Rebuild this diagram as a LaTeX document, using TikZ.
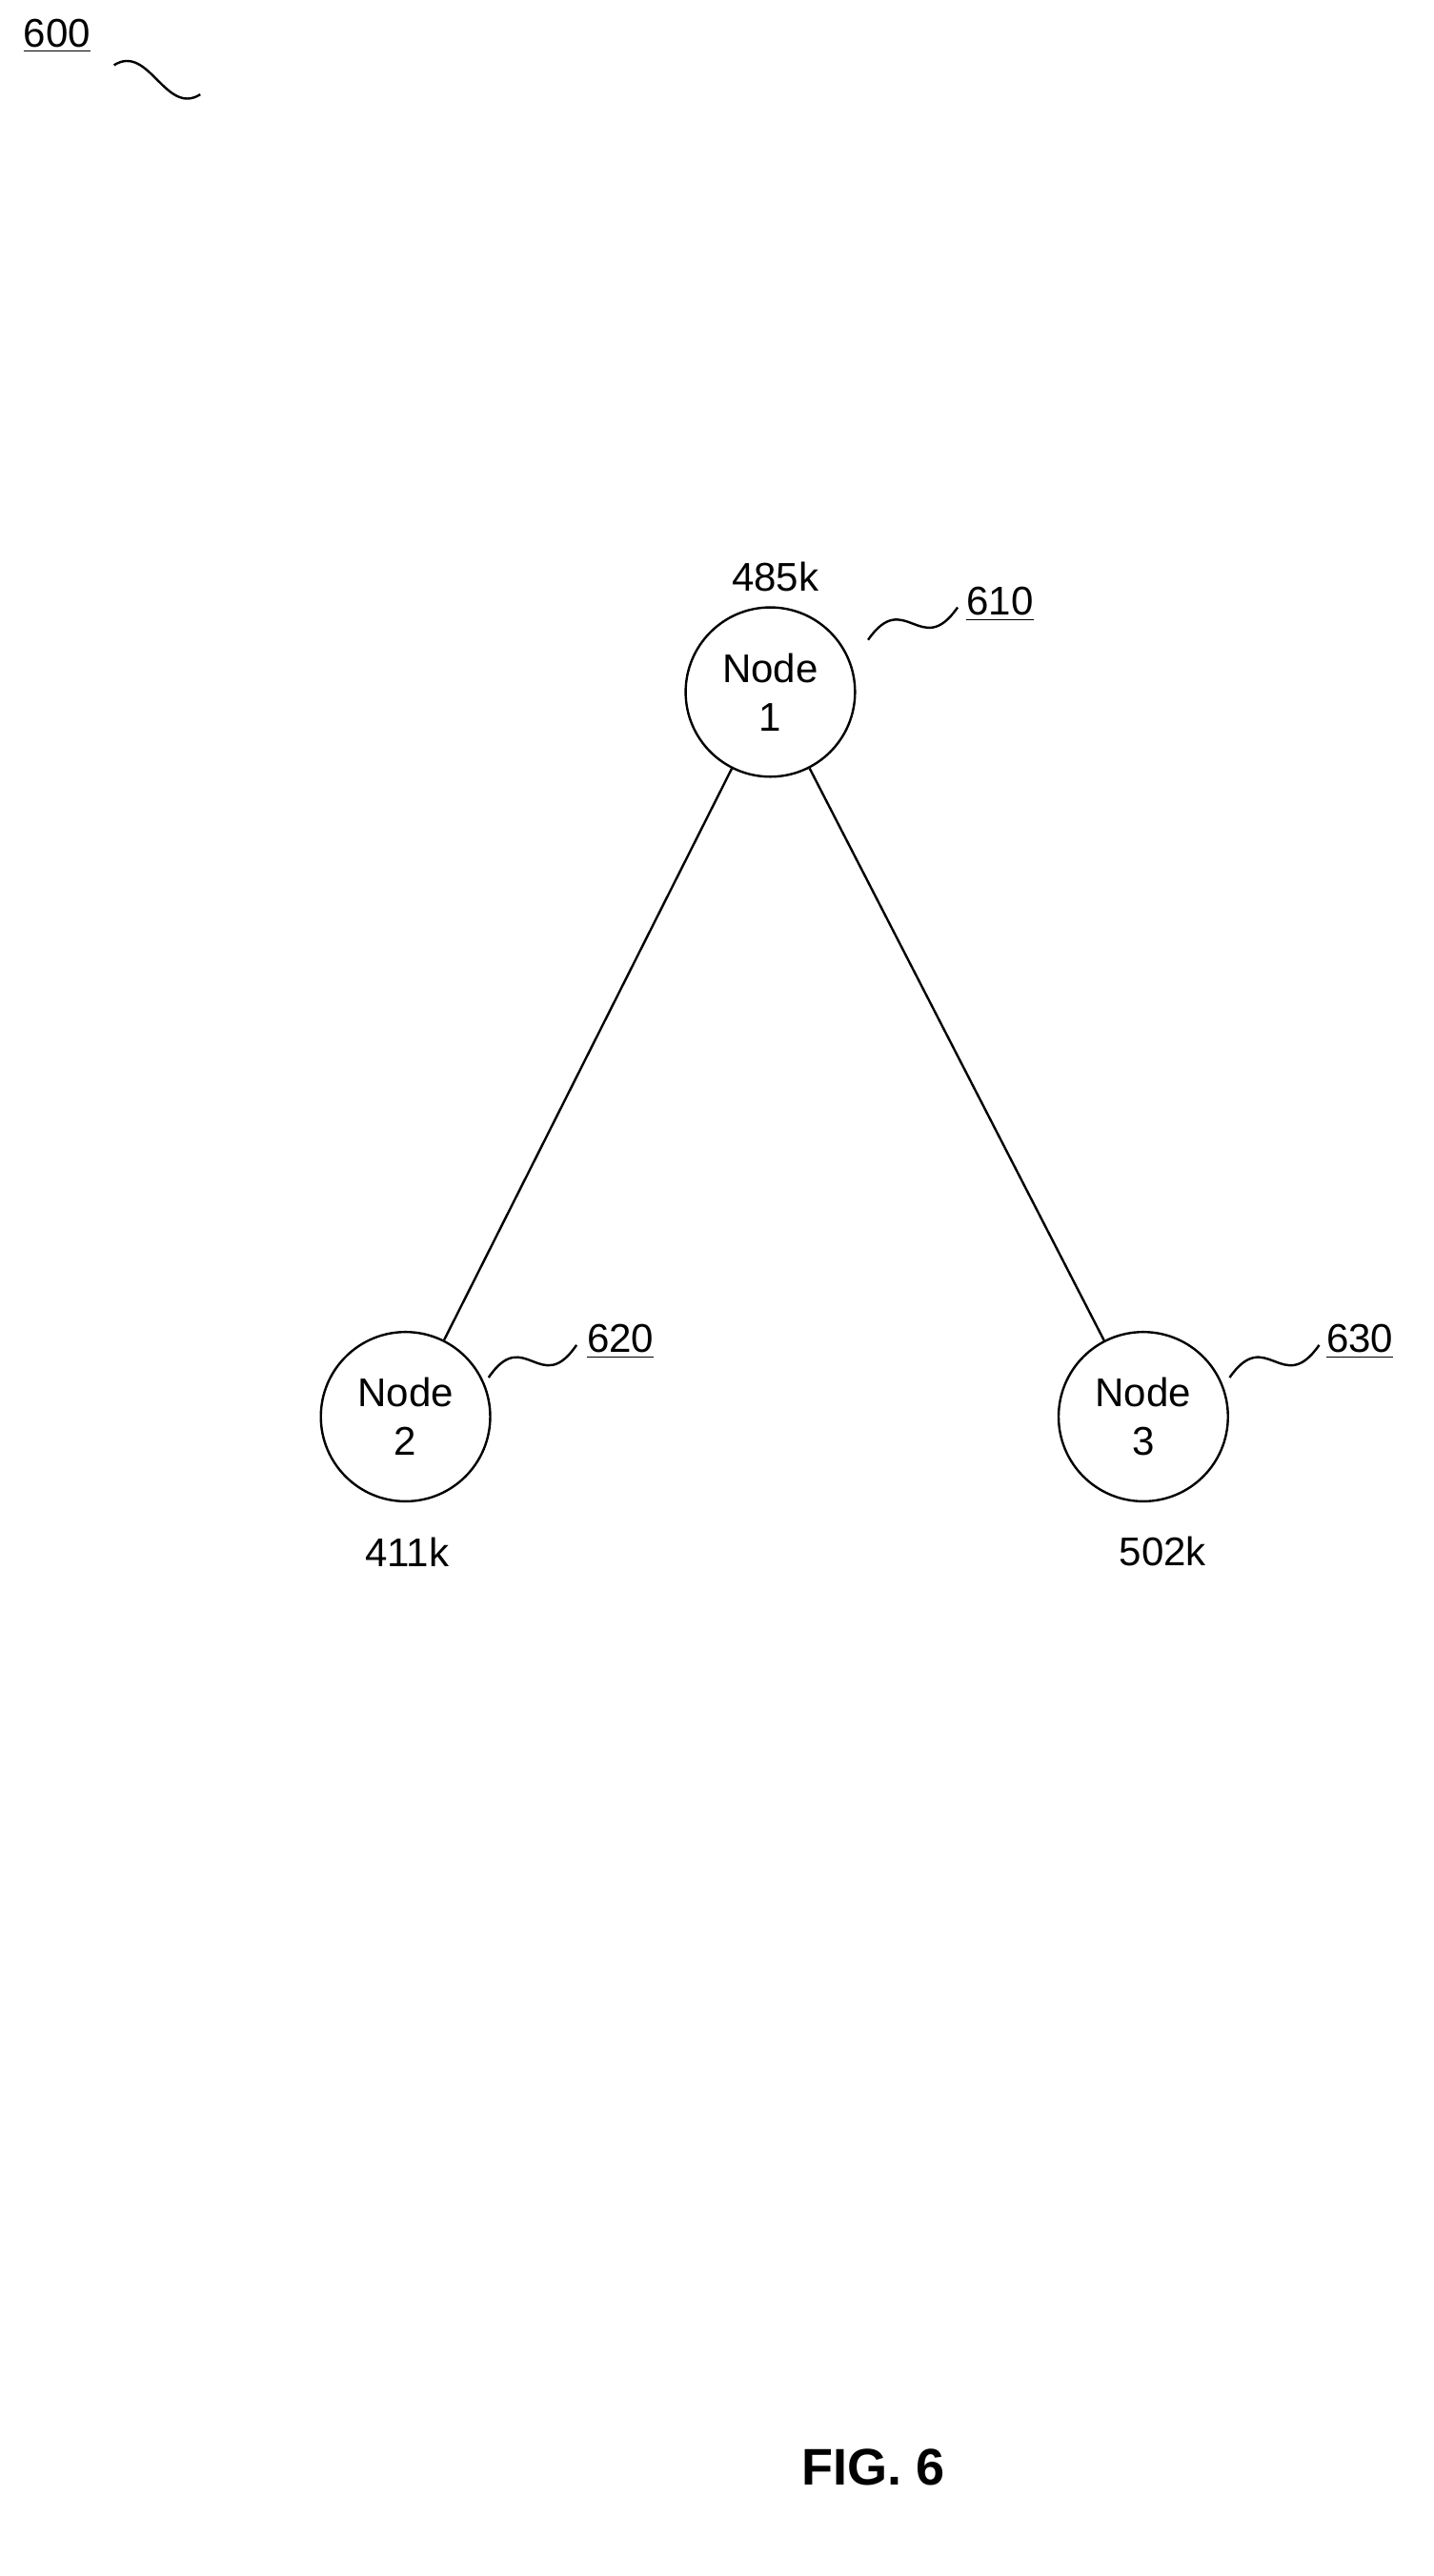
\documentclass[tikz,border=0pt]{standalone}
\usepackage{fontspec}
\setmainfont{Liberation Sans}
\usetikzlibrary{calc}
\tikzset{
  peer/.style={draw, thick, circle, minimum size=2.08cm, align=center, inner sep=0pt, font=\fontsize{14}{17}\selectfont},
  lbl/.style={font=\fontsize{14}{17}\selectfont},
  refnum/.style={font=\fontsize{14}{17}\selectfont}
}
\newcommand{\squig}[2]{\draw[thick] (#1) .. controls ($(#1)!0.5!(#2)+(-0.1,0.45)$) and ($(#1)!0.5!(#2)+(0.1,-0.45)$) .. (#2);}
\newcommand{\refnr}[1]{\underline{#1}}
\begin{document}
\begin{tikzpicture}
\useasboundingbox (0,0) rectangle (17.6,-31.64);
% Nodos
\node[peer] (n1) at (9.46,-8.5) {Node\\1};
\node[peer] (n2) at (4.98,-17.4) {Node\\2};
\node[peer] (n3) at (14.04,-17.4) {Node\\3};
% Enlaces
\draw[thick] (n1) -- (n2);
\draw[thick] (n1) -- (n3);
% Valores
\node[lbl] (v1) at (9.52,-7.08) {485k};
\node[lbl] (v2) at (5.0,-19.06) {411k};
\node[lbl] (v3) at (14.28,-19.06) {502k};
% Referencias
\node[refnum] (r600) at (0.7,-0.44) {\refnr{600}};
\node[refnum] (r610) at (12.28,-7.42) {\refnr{610}};
\node[refnum] (r620) at (7.62,-16.48) {\refnr{620}};
\node[refnum] (r630) at (16.7,-16.48) {\refnr{630}};
\coordinate (s600) at (1.4,-0.8);   \coordinate (e600) at (2.46,-1.16);
\coordinate (s610) at (10.66,-7.86); \coordinate (e610) at (11.76,-7.46);
\coordinate (s620) at (6.0,-16.92);  \coordinate (e620) at (7.08,-16.52);
\coordinate (s630) at (15.1,-16.92); \coordinate (e630) at (16.2,-16.52);
\squig{s600}{e600}
\squig{s610}{e610}
\squig{s620}{e620}
\squig{s630}{e630}
% Figura
\node[font=\fontsize{18}{22}\selectfont\bfseries] (fig) at (10.72,-30.3) {FIG. 6};
\end{tikzpicture}
\end{document}
